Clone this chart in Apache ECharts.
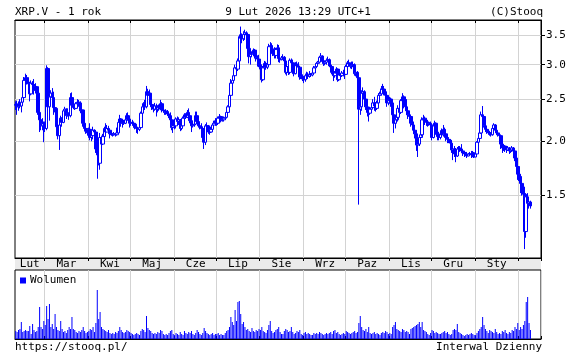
<!DOCTYPE html>
<html><head><meta charset="utf-8">
<script src="https://cdn.jsdelivr.net/npm/echarts@6/dist/echarts.min.js"></script>
<style>html,body{margin:0;padding:0;background:#fff}#c{width:586px;height:361px}</style>
</head><body><div id="c"></div>
<script>
// ---- data (daily XRP.V, 2025-02-08 .. 2026-02-09) ----
const firstOpen = 2.43;
const closes = [
2.42,2.40,2.44,2.41,2.46,2.52,2.76,2.80,2.73,2.71,2.57,2.72,2.70,2.62,2.67,2.58,2.33,2.24,2.17,2.20,2.19,
2.14,2.94,2.40,2.53,2.58,2.52,2.39,2.38,2.16,2.06,2.18,2.26,2.21,2.35,2.37,2.29,2.32,2.29,2.52,2.42,2.39,2.38,2.44,2.46,2.45,2.35,2.36,2.20,2.14,2.11,2.09,
2.13,2.04,2.06,2.12,2.10,1.92,1.86,1.78,2.04,1.97,2.05,2.14,2.10,2.14,2.12,2.08,2.07,2.07,2.08,2.07,2.09,2.21,2.25,2.20,2.21,2.20,2.24,2.29,2.25,2.20,
2.21,2.20,2.19,2.15,2.14,2.13,2.15,2.32,2.40,2.44,2.40,2.60,2.55,2.58,2.43,2.40,2.37,2.41,2.37,2.40,2.39,2.44,2.36,2.35,2.33,2.34,2.31,2.29,2.24,2.15,2.17,
2.17,2.25,2.22,2.24,2.14,2.17,2.26,2.30,2.27,2.33,2.29,2.23,2.17,2.18,2.19,2.29,2.22,2.17,2.16,2.14,2.04,1.99,2.17,2.17,2.10,2.10,2.13,2.18,2.20,2.23,
2.20,2.26,2.28,2.23,2.24,2.26,2.27,2.33,2.40,2.55,2.72,2.76,2.83,2.95,2.93,3.06,3.48,3.45,3.44,3.52,3.55,3.52,3.27,3.13,3.17,3.18,3.24,3.14,3.11,3.09,3.00,
2.93,2.77,2.95,3.02,2.96,3.00,3.30,3.32,3.26,3.18,3.15,3.25,3.28,3.10,3.08,3.11,3.12,3.06,2.88,2.97,2.88,3.07,3.03,3.00,2.86,3.01,2.98,2.96,2.81,2.82,2.78,
2.77,2.83,2.85,2.82,2.85,2.84,2.87,2.95,2.97,3.02,3.04,3.12,3.14,3.05,3.02,3.04,3.07,3.08,2.98,2.97,2.88,2.83,2.87,2.93,2.77,2.84,2.83,2.87,2.86,2.85,
2.97,3.03,3.01,2.97,2.99,3.00,2.86,2.88,2.80,2.37,2.40,2.58,2.60,2.50,2.40,2.33,2.32,2.37,2.39,2.45,2.41,2.38,2.45,2.55,2.57,2.64,2.63,2.60,2.55,2.45,2.48,
2.50,2.45,2.30,2.20,2.24,2.27,2.38,2.33,2.48,2.53,2.42,2.40,2.35,2.30,2.28,2.20,2.18,2.12,2.08,1.96,1.97,2.04,2.07,2.24,2.26,2.22,2.21,2.19,2.20,2.18,
2.04,2.17,2.20,2.10,2.05,2.04,2.08,2.07,2.13,2.08,2.04,2.02,2.01,1.98,1.91,1.92,1.87,1.85,1.92,1.93,1.92,1.90,1.88,1.87,1.86,1.85,1.87,1.87,1.86,1.88,1.84,
1.87,1.99,2.03,2.09,2.30,2.28,2.17,2.13,2.11,2.09,2.08,2.07,2.14,2.18,2.12,2.09,2.07,2.06,1.97,1.93,1.95,1.92,1.91,1.93,1.90,1.91,1.93,1.90,1.83,1.75,1.68,
1.66,1.60,1.57,1.51,1.24,1.49,1.44,1.45,1.42];
const highs = [
2.47,2.48,2.47,2.50,2.50,2.55,2.81,2.86,2.84,2.80,2.74,2.76,2.75,2.78,2.72,2.68,2.60,2.36,2.30,2.26,2.22,
2.22,2.99,2.96,2.58,2.62,2.65,2.60,2.42,2.38,2.30,2.24,2.29,2.27,2.37,2.40,2.38,2.38,2.33,2.58,2.59,2.46,2.43,2.46,2.50,2.49,2.47,2.41,2.36,2.22,2.16,2.14,
2.15,2.20,2.09,2.16,2.13,2.12,1.98,1.94,2.09,2.06,2.08,2.16,2.20,2.18,2.17,2.12,2.10,2.09,2.10,2.09,2.15,2.24,2.30,2.26,2.24,2.24,2.27,2.32,2.33,2.27,
2.25,2.24,2.22,2.20,2.17,2.16,2.18,2.34,2.44,2.46,2.49,2.68,2.64,2.63,2.58,2.47,2.42,2.45,2.44,2.42,2.43,2.49,2.46,2.40,2.36,2.37,2.36,2.33,2.33,2.26,2.20,
2.20,2.27,2.28,2.27,2.25,2.21,2.28,2.32,2.32,2.36,2.38,2.31,2.24,2.20,2.22,2.34,2.34,2.24,2.20,2.20,2.15,2.09,2.19,2.21,2.18,2.15,2.16,2.20,2.23,2.26,
2.24,2.28,2.31,2.29,2.26,2.28,2.31,2.36,2.42,2.58,2.78,2.80,2.90,3.00,3.05,3.10,3.52,3.67,3.54,3.58,3.61,3.58,3.54,3.30,3.20,3.22,3.27,3.26,3.20,3.15,3.16,
3.02,2.96,2.98,3.06,3.05,3.03,3.35,3.38,3.36,3.30,3.29,3.28,3.34,3.33,3.14,3.14,3.17,3.14,3.08,3.00,3.00,3.10,3.10,3.08,3.02,3.04,3.05,3.04,2.97,2.85,2.85,
2.82,2.86,2.89,2.88,2.90,2.87,2.89,2.98,3.02,3.04,3.06,3.14,3.19,3.15,3.10,3.07,3.10,3.13,3.10,3.02,3.00,2.90,2.90,2.96,2.94,2.86,2.86,2.90,2.92,2.89,
3.00,3.06,3.08,3.03,3.05,3.05,3.02,2.92,2.90,2.84,2.50,2.62,2.66,2.62,2.55,2.44,2.38,2.40,2.42,2.50,2.53,2.46,2.48,2.58,2.60,2.68,2.71,2.68,2.64,2.58,2.52,
2.53,2.52,2.46,2.33,2.28,2.36,2.42,2.40,2.50,2.58,2.55,2.47,2.50,2.38,2.33,2.30,2.27,2.22,2.16,2.12,2.03,2.06,2.10,2.27,2.30,2.28,2.25,2.24,2.22,2.22,
2.18,2.20,2.23,2.21,2.12,2.08,2.12,2.14,2.18,2.15,2.09,2.07,2.04,2.02,2.01,1.95,1.95,1.93,1.94,1.95,1.95,1.97,1.91,1.90,1.89,1.89,1.88,1.89,1.90,1.90,1.89,
1.89,2.00,2.05,2.11,2.34,2.41,2.30,2.18,2.14,2.12,2.11,2.10,2.16,2.20,2.19,2.13,2.10,2.09,2.06,1.98,1.97,1.96,1.95,1.95,1.94,1.93,1.95,1.94,1.91,1.84,1.76,
1.72,1.68,1.63,1.59,1.52,1.52,1.52,1.48,1.46];
const lows = [
2.36,2.30,2.35,2.38,2.33,2.42,2.50,2.73,2.70,2.63,2.47,2.55,2.64,2.56,2.60,2.55,2.30,2.10,2.12,2.12,1.99,
2.10,2.12,2.37,2.23,2.46,2.48,2.30,2.33,2.13,2.02,1.91,2.10,2.16,2.20,2.32,2.25,2.28,2.24,2.27,2.39,2.37,2.36,2.37,2.41,2.40,2.32,2.33,2.16,2.11,2.08,2.06,
2.06,2.01,2.00,2.02,2.07,1.88,1.64,1.76,1.72,1.92,1.96,2.04,2.08,2.10,2.10,2.03,2.06,2.05,2.06,2.05,2.06,2.08,2.20,2.16,2.15,2.18,2.19,2.22,2.23,2.15,
2.17,2.17,2.17,2.13,2.09,2.08,2.11,2.14,2.30,2.37,2.36,2.38,2.43,2.50,2.40,2.36,2.33,2.35,2.28,2.33,2.35,2.38,2.33,2.33,2.30,2.30,2.29,2.26,2.21,2.12,2.09,
2.13,2.14,2.20,2.18,2.11,2.12,2.15,2.24,2.25,2.26,2.27,2.20,2.10,2.15,2.16,2.18,2.20,2.15,2.13,2.09,2.02,1.92,1.96,2.13,2.08,2.07,2.09,2.12,2.16,2.17,
2.17,2.18,2.24,2.21,2.22,2.22,2.24,2.26,2.32,2.39,2.53,2.66,2.74,2.80,2.85,2.90,3.04,3.38,3.36,3.40,3.42,3.34,3.20,3.02,3.00,3.12,3.14,3.10,3.05,2.97,2.96,
2.88,2.73,2.75,2.92,2.92,2.93,2.98,3.22,3.20,3.14,3.10,3.10,3.20,3.04,3.03,3.07,3.08,3.00,2.85,2.83,2.84,2.85,3.00,2.96,2.82,2.85,2.94,2.92,2.77,2.78,2.75,
2.72,2.74,2.80,2.78,2.80,2.81,2.82,2.86,2.92,2.95,2.98,3.03,3.08,3.02,2.98,2.99,3.00,3.04,2.96,2.94,2.85,2.75,2.80,2.84,2.74,2.75,2.80,2.81,2.82,2.78,
2.84,2.95,2.97,2.94,2.93,2.96,2.83,2.82,2.75,1.43,2.30,2.35,2.50,2.40,2.36,2.28,2.22,2.30,2.34,2.37,2.35,2.34,2.36,2.43,2.53,2.55,2.58,2.55,2.50,2.40,2.42,
2.44,2.40,2.22,2.09,2.14,2.20,2.22,2.28,2.31,2.45,2.38,2.35,2.30,2.25,2.23,2.16,2.13,2.08,2.03,1.90,1.84,1.95,2.01,2.05,2.19,2.18,2.17,2.16,2.17,2.15,
2.01,2.03,2.14,2.07,2.01,2.01,2.02,2.05,2.05,2.06,2.00,1.98,1.98,1.95,1.88,1.81,1.84,1.79,1.84,1.90,1.89,1.88,1.85,1.84,1.85,1.83,1.85,1.86,1.83,1.85,1.83,
1.84,1.86,1.97,2.01,2.08,2.24,2.15,2.10,2.08,2.07,2.06,2.05,2.06,2.11,2.09,2.07,2.05,2.04,1.92,1.88,1.90,1.89,1.88,1.90,1.87,1.88,1.89,1.88,1.80,1.70,1.63,
1.62,1.52,1.50,1.48,1.13,1.20,1.38,1.40,1.40];
const volumes = [
8,7,9,10,17,7,8,9,8,8,13,5,15,9,7,8,12,32,12,10,18,
14,33,20,35,12,15,10,25,12,9,8,18,10,7,8,6,9,12,10,22,10,9,7,6,8,7,9,12,8,6,7,
8,10,9,12,7,16,49,20,27,12,10,9,8,7,9,6,5,6,5,7,6,8,12,9,7,6,7,9,8,7,
6,5,4,5,6,5,4,8,10,9,7,23,11,9,8,6,5,6,5,7,6,9,8,5,4,5,4,6,8,9,5,
4,6,5,4,7,5,4,8,6,5,7,6,8,5,4,6,9,7,5,4,6,11,8,6,5,4,5,6,4,5,
5,6,4,5,4,4,6,8,9,12,22,17,14,29,18,37,38,25,15,17,12,9,10,8,7,11,8,7,9,8,10,
9,12,8,7,6,9,14,18,8,6,7,9,10,12,7,5,5,8,10,9,7,8,12,7,5,6,8,7,9,5,4,
6,7,5,6,5,4,4,6,5,6,5,7,6,5,4,5,6,5,6,7,5,8,9,6,7,5,4,5,6,5,
8,7,6,5,6,7,8,6,7,16,23,12,9,8,10,7,12,6,5,6,7,5,6,5,4,6,7,6,8,7,5,
6,5,12,14,17,10,9,8,7,10,9,7,8,7,5,10,11,12,13,14,15,17,12,17,9,8,7,5,4,6,
9,8,6,7,6,5,5,6,7,8,6,7,5,4,5,9,10,9,15,7,6,5,4,3,4,5,4,5,6,5,4,
4,6,8,10,12,22,14,10,8,6,9,8,7,6,10,7,5,6,5,8,7,9,6,5,7,6,9,8,12,10,16,
9,12,10,14,18,37,42,16,9];
const monthNames = ['Sty','Lut','Mar','Kwi','Maj','Cze','Lip','Sie','Wrz','Paz','Lis','Gru'];
const priceTicks = [1.5, 2.0, 2.5, 3.0, 3.5];
const priceMin = 1.078, priceMax = 3.80;
const volMax = 69;
const slotCount = 374;
const titleLeft = 'XRP.V - 1 rok', titleMid = '9 Lut 2026 13:29 UTC+1', titleRight = '(C)Stooq';
const footLeft = 'https://stooq.pl/', footRight = 'Interwal Dzienny';

// ---- build ----
const cats = [];
const t0 = Date.UTC(2025, 1, 8);
for (let i = 0; i < slotCount; i++) cats.push(new Date(t0 + i * 86400000).toISOString().slice(0, 10));
const lg = v => Math.log10(v);
const candles = closes.map((c, i) => {
  const o = i === 0 ? firstOpen : closes[i - 1];
  const h = Math.max(highs[i], o, c), l = Math.min(lows[i], o, c);
  return [lg(o), lg(c), lg(l), lg(h)];
});
const isMonthStart = (i, v) => v.slice(8) === '01';
const isLabel = (i, v) => v === '2025-02-18' || (v.slice(8) === '16' && v < '2026-02-01');
const FONT = 'DejaVu Sans Mono';
const BLUE = '#0000ff', GRID = '#d3d3d3';
const txt = (x, y, text, align) => ({type: 'text', x, y, style: {text, fill: '#000', font: '11px "' + FONT + '"', textAlign: align, textVerticalAlign: 'middle'}});

const chart = echarts.init(document.getElementById('c'), null, {renderer: 'canvas'});
chart.setOption({
  animation: false,
  backgroundColor: '#fff',
  grid: [
    {left: 15, top: 20, width: 526, height: 238, show: true, borderColor: '#000', borderWidth: 1, backgroundColor: 'rgba(0,0,0,0)'},
    {left: 15, top: 270, width: 526, height: 69, show: true, borderColor: '#000', borderWidth: 1, backgroundColor: 'rgba(0,0,0,0)'}
  ],
  legend: {data: ['Wolumen'], left: 20, top: 275, padding: 0, itemWidth: 6, itemHeight: 6, icon: 'rect',
    textStyle: {fontFamily: FONT, fontSize: 11, color: '#000', padding: [0, 0, 0, -1]}},
  xAxis: [
    {type: 'category', gridIndex: 0, data: cats, position: 'bottom',
      axisLine: {show: true, lineStyle: {color: '#000'}},
      axisTick: {show: true, interval: isMonthStart, length: 3, lineStyle: {color: '#000'}},
      axisLabel: {show: true, interval: isLabel, margin: 1, fontFamily: FONT, fontSize: 11, color: '#000', lineHeight: 11,
        formatter: v => monthNames[+v.slice(5, 7) - 1]},
      splitLine: {show: true, interval: isMonthStart, lineStyle: {color: GRID, width: 1}}},
    {type: 'category', gridIndex: 0, data: cats, position: 'top',
      axisLine: {show: true, lineStyle: {color: '#000'}},
      axisTick: {show: true, interval: isMonthStart, inside: true, length: 3, lineStyle: {color: '#000'}},
      axisLabel: {show: false}, splitLine: {show: false}},
    {type: 'category', gridIndex: 1, data: cats, position: 'top',
      axisLine: {show: true, lineStyle: {color: '#000'}},
      axisTick: {show: true, interval: isMonthStart, length: 3, lineStyle: {color: '#000'}},
      axisLabel: {show: false},
      splitLine: {show: true, interval: isMonthStart, lineStyle: {color: GRID, width: 1}}}
  ],
  yAxis: [
    {type: 'value', gridIndex: 0, position: 'right', min: lg(priceMin), max: lg(priceMax),
      axisLine: {show: true, lineStyle: {color: '#000'}},
      axisTick: {show: true, length: 4, customValues: priceTicks.map(lg), lineStyle: {color: '#000'}},
      axisLabel: {show: true, customValues: priceTicks.map(lg), margin: 5, fontFamily: FONT, fontSize: 11, color: '#000',
        formatter: v => Math.pow(10, v).toFixed(1)},
      splitLine: {show: true, lineStyle: {color: GRID, width: 1}}},
    {type: 'value', gridIndex: 1, min: 0, max: volMax, show: false, splitLine: {show: false}}
  ],
  series: [
    {type: 'candlestick', name: 'XRP.V', xAxisIndex: 0, yAxisIndex: 0, data: candles, barWidth: 3, large: false,
      itemStyle: {color: '#ffffff', color0: BLUE, borderColor: BLUE, borderColor0: BLUE, borderColorDoji: BLUE, borderWidth: 1}},
    {type: 'bar', name: 'Wolumen', xAxisIndex: 2, yAxisIndex: 1, data: volumes, barWidth: 0.9,
      itemStyle: {color: BLUE}}
  ],
  graphic: [
    {type: 'rect', z: -1, shape: {x: 15, y: 258, width: 526, height: 12}, style: {fill: '#ebebeb'}},
    txt(15, 12, titleLeft, 'left'),
    txt(298, 12, titleMid, 'center'),
    txt(543, 12, titleRight, 'right'),
    txt(15, 347, footLeft, 'left'),
    txt(542, 347, footRight, 'right')
  ]
});
</script></body></html>
